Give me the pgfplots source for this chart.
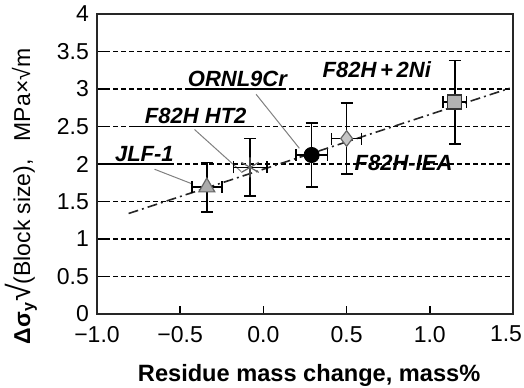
\documentclass[border=0pt]{standalone}
\usepackage{fontspec}
\setmainfont{Liberation Sans}
\usepackage{pgfplots}
\pgfplotsset{compat=1.18}
\begin{document}
\begin{tikzpicture}
\useasboundingbox (-48.5pt,-36.5pt) rectangle (213.5pt,157pt);
\begin{axis}[
  at={(0pt,0pt)}, anchor=south west,
  scale only axis, width=208pt, height=150pt,
  xmin=-1, xmax=1.5, ymin=0, ymax=4,
  xtick={-1,-0.5,0,0.5,1,1.5},
  xticklabels={−1.0,−0.5,0.0,0.5,1.0,\hspace*{-7pt}1.5},
  ytick={0,0.5,1,1.5,2,2.5,3,3.5,4},
  yticklabels={0,0.5,1,1.5,2,2.5,3,3.5,4},
  ymajorgrids,
  grid style={black, line width=0.7pt, dash pattern=on 2.5pt off 1.5pt},
  axis line style={line width=1pt, black!85},
  tick align=inside, tick pos=left,
  major tick length=4pt,
  tick style={black, line width=0.8pt},
  tick label style={font=\fontsize{11.5}{13}\selectfont},
  xticklabel style={yshift=-2.5pt},
  yticklabel style={xshift=-0.5pt},
  xlabel={\bfseries Residue mass change, mass\%},
  xlabel style={at={(axis description cs:0.51,-0.205)}, anchor=center, font=\fontsize{11.8}{13}\selectfont},
  ylabel={{\fontsize{11.5}{12}\selectfont\bfseries Δσ\textsubscript{y}}{\fontsize{16}{16}\selectfont√}{\fontsize{11.5}{12}\selectfont(Block size),}\hspace{9pt}{\fontsize{11.5}{12}\selectfont MPa×√m}},
  ylabel style={at={(axis description cs:-0.161,0.392)}, anchor=base},
  clip=false,
]
% trend line
\addplot[black!85, line width=0.8pt, dash pattern=on 5pt off 2pt on 1pt off 2pt] coordinates {(-0.81,1.34) (1.48,3.01)};

% leader lines
\draw[gray, line width=0.5pt] (axis cs:-0.654,1.93) -- (axis cs:-0.426,1.733);
\draw[gray, line width=0.5pt] (axis cs:-0.414,2.46) -- (axis cs:-0.134,1.90);
\draw[gray, line width=0.5pt] (axis cs:-0.044,2.93) -- (axis cs:0.216,2.21);

% underlines
\draw[black, line width=0.8pt] (axis cs:-0.924,2.0) -- (axis cs:-0.546,2.0);
\draw[black, line width=0.8pt] (axis cs:-0.79,2.5) -- (axis cs:-0.084,2.5);
\draw[black, line width=0.8pt] (axis cs:-0.468,3.0) -- (axis cs:0.126,3.0);

\pgfplotsset{errstyle/.style={error bars/.cd, x dir=both, x explicit, y dir=both, y explicit,
  error bar style={black, line width=0.8pt, solid},
  error mark options={black, mark size=3pt, line width=0.8pt, rotate=90}}}

% JLF-1
\addplot[only marks, mark=triangle*, mark size=4.6pt, mark options={fill=gray!65, draw=black!60, line width=0.6pt}, errstyle]
  coordinates {(-0.34,1.69) +- (0.09,0.33)};
% F82H HT2
\addplot[only marks, mark=asterisk, mark size=5pt, mark options={draw=black!60, line width=0.6pt}, errstyle]
  coordinates {(-0.08,1.955) +- (0.10,0.385)};
% ORNL9Cr
\addplot[only marks, mark=*, mark size=3.8pt, mark options={fill=black, draw=black}, errstyle]
  coordinates {(0.29,2.12) +- (0.095,0.43)};
% F82H-IEA
\addplot[only marks, mark=diamond*, mark size=3.9pt, mark options={fill=gray!45, draw=black!60, line width=0.6pt}, errstyle]
  coordinates {(0.50,2.34) +- (0.09,0.47)};
% F82H+2Ni
\addplot[only marks, mark=square*, mark size=3.5pt, mark options={fill=gray!60, draw=black!80, line width=0.7pt}, errstyle]
  coordinates {(1.15,2.825) +- (0.07,0.555)};

% labels
\node[anchor=base west, inner sep=0pt, yshift=1.5pt, font=\bfseries\itshape\fontsize{11}{13}\selectfont] at (axis cs:-0.894,2.0) {JLF-1};
\node[anchor=base west, inner sep=0pt, yshift=1.5pt, font=\bfseries\itshape\fontsize{11}{13}\selectfont] at (axis cs:-0.714,2.5) {F82H HT2};
\node[anchor=base west, inner sep=0pt, yshift=1.5pt, font=\bfseries\itshape\fontsize{11}{13}\selectfont] at (axis cs:-0.456,3.0) {ORNL9Cr};
\node[anchor=west, inner sep=0pt, font=\bfseries\itshape\fontsize{11}{13}\selectfont] at (axis cs:0.354,3.253) {F82H\,+\,2Ni};
\node[anchor=west, inner sep=0pt, font=\bfseries\itshape\fontsize{11}{13}\selectfont] at (axis cs:0.546,2.01) {F82H-IEA};
\end{axis}
\end{tikzpicture}
\end{document}
